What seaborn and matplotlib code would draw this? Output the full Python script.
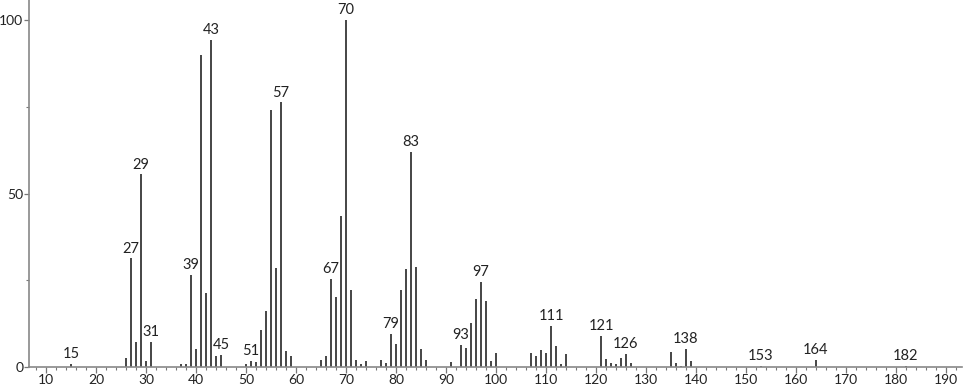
import numpy as np
import pandas as pd
import matplotlib
matplotlib.use("Agg")
import matplotlib.pyplot as plt
from matplotlib.ticker import MultipleLocator, FixedLocator
import seaborn as sns

mz = [15, 26, 27, 28, 29, 30, 31, 37, 38, 39, 40, 41, 42, 43, 44, 45,
      50, 51, 52, 53, 54, 55, 56, 57, 58, 59,
      65, 66, 67, 68, 69, 70, 71, 72, 73, 74,
      77, 78, 79, 80, 81, 82, 83, 84, 85, 86,
      91, 93, 94, 95, 96, 97, 98, 99, 100,
      107, 108, 109, 110, 111, 112, 113, 114,
      121, 122, 123, 124, 125, 126, 127,
      135, 136, 137, 138, 139, 153, 164, 182]
intensity = [1.0, 2.7, 31.3, 7.3, 55.5, 1.7, 7.3, 0.8, 0.8, 26.5, 5.1, 89.9, 21.4, 94.4, 3.2, 3.4,
             1.0, 1.8, 1.4, 10.6, 16.1, 74.1, 28.4, 76.3, 4.7, 3.2,
             2.0, 3.2, 25.3, 20.3, 43.5, 100.0, 22.2, 2.0, 0.9, 1.6,
             2.0, 1.2, 9.5, 6.6, 22.2, 28.3, 62.0, 28.9, 5.1, 2.0,
             1.5, 6.3, 5.4, 12.6, 19.5, 24.6, 19.0, 1.7, 4.1,
             3.9, 3.2, 4.9, 3.9, 11.8, 6.1, 0.8, 3.7,
             9.0, 2.4, 1.1, 0.8, 2.7, 3.8, 1.1,
             4.3, 1.1, 0.4, 5.3, 1.8, 0.3, 2.0, 0.3]
labeled = [15, 27, 29, 31, 39, 43, 45, 51, 57, 67, 70, 79, 83, 93, 97,
           111, 121, 126, 138, 153, 164, 182]
x_major = list(range(10, 191, 10))
y_major = [0, 50, 100]

df = pd.DataFrame({"mz": mz, "intensity": intensity})

sns.set_theme(style="ticks")
plt.rcParams["font.family"] = ["Lato", "DejaVu Sans"]

fig = plt.figure(figsize=(9.66, 3.89), dpi=100)
ax = fig.add_axes([29 / 966, 22 / 389, 933 / 966, 367 / 389])

sns.barplot(data=df, x="mz", y="intensity", native_scale=True, width=0.28,
            color="#4a4a4a", saturation=1, linewidth=0, ax=ax)

lab = dict(zip(mz, intensity))
for m in labeled:
    ax.annotate(str(m), xy=(m, lab[m]), xytext=(0, 2), textcoords="offset points",
                ha="center", va="bottom", fontsize=10.5, color="#222222")

ax.set_xlim(6.6, 193.2)
ax.set_ylim(0, 105.8)
ax.set_xlabel("")
ax.set_ylabel("")
ax.xaxis.set_major_locator(FixedLocator(x_major))
ax.xaxis.set_minor_locator(MultipleLocator(2))
ax.yaxis.set_major_locator(FixedLocator(y_major))
ax.yaxis.set_minor_locator(FixedLocator([25, 75]))
ax.tick_params(axis="x", which="major", length=4.5, width=0.9, color="#777777",
               labelsize=10, labelcolor="#222222", pad=0.5)
ax.tick_params(axis="x", which="minor", length=2.5, width=0.8, color="#777777")
ax.tick_params(axis="y", which="major", length=3.5, width=0.9, color="#777777",
               labelsize=10, labelcolor="#222222", pad=0.5)
ax.tick_params(axis="y", which="minor", length=2.5, width=0.8, color="#777777")
for s in ["top", "right"]:
    ax.spines[s].set_visible(False)
for s in ["left", "bottom"]:
    ax.spines[s].set_color("#888888")
    ax.spines[s].set_linewidth(1.2)

fig.savefig("out.png", dpi=100)
